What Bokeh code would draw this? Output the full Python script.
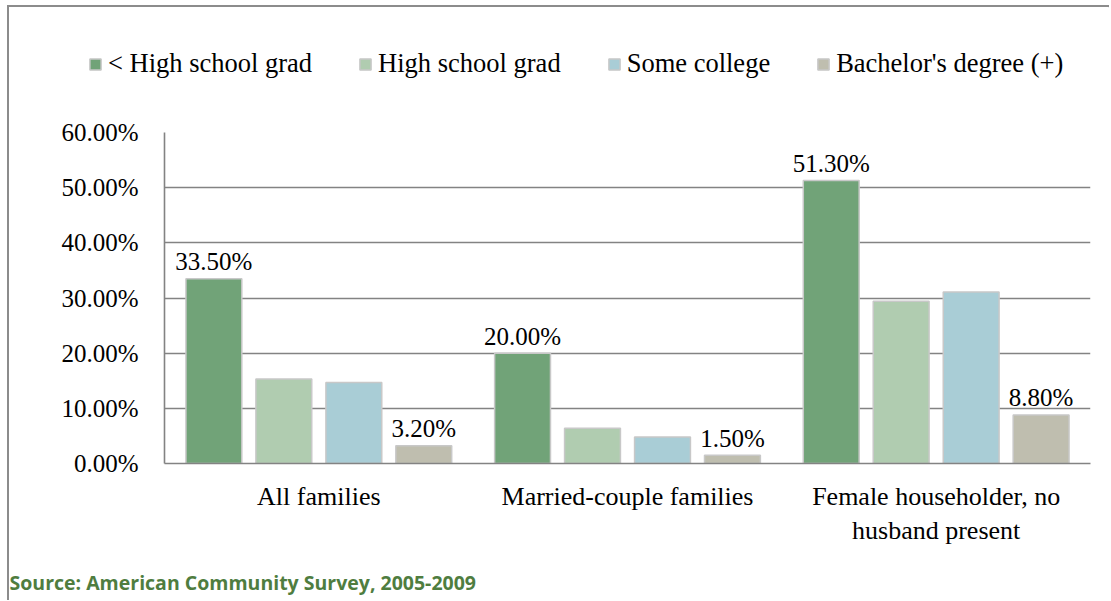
from bokeh.plotting import figure
from bokeh.layouts import column
from bokeh.models import (ColumnDataSource, FactorRange, Legend, LegendItem, Title,
                          PrintfTickFormatter, FixedTicker, Range1d)
from bokeh.transform import dodge
from bokeh.embed import file_html
from bokeh.resources import INLINE

categories = ["All families", "Married-couple families", "Female householder, no\nhusband present"]
series_names = ["< High school grad", "High school grad", "Some college", "Bachelor's degree (+)"]
less_hs = [33.5, 20.0, 51.3]
hs_grad = [15.3, 6.4, 29.4]
some_college = [14.7, 4.8, 31.1]
bachelors = [3.2, 1.5, 8.8]
y_ticks = [0, 10, 20, 30, 40, 50, 60]
source_note = "Source: American Community Survey, 2005-2009"

colors = ["#71a378", "#b0ccb0", "#a9cdd6", "#bfbeaf"]
series_values = [less_hs, hs_grad, some_college, bachelors]
offsets = [-0.34, -0.1134, 0.1134, 0.34]
labelled = [True, False, False, True]

W = 1100

# legend strip on top (its key glyphs sit outside its visible range)
lf = figure(width=W, height=87, x_range=Range1d(0, 1), y_range=Range1d(0, 1),
            x_axis_type=None, y_axis_type=None, output_backend="svg",
            toolbar_location=None, min_border=0, outline_line_color=None,
            frame_align=False)
lf.grid.visible = False

p = figure(width=W, height=506, x_range=FactorRange(*categories, range_padding=0),
           y_range=Range1d(0, 60), output_backend="svg", toolbar_location=None,
           min_border_left=155, min_border_top=38, min_border_right=19,
           min_border_bottom=135, outline_line_color=None, frame_align=False)

items = []
for name, vals, col, off, lab in zip(series_names, series_values, colors, offsets, labelled):
    src = ColumnDataSource(dict(cat=categories, val=vals,
                                txt=[f"{v:.2f}%" for v in vals]))
    p.vbar(x=dodge("cat", off, range=p.x_range), top="val", width=0.181, source=src,
           fill_color=col, line_color="#c8c8c8", line_width=1.5)
    key = lf.vbar(x=[5], top=[5], bottom=[4], width=0.1, fill_color=col,
                  line_color="#c8c8c8", line_width=1.5)
    items.append(LegendItem(label=name, renderers=[key]))
    if lab:
        p.text(x=dodge("cat", off, range=p.x_range), y="val", text="txt", source=src,
               text_align="center", text_baseline="alphabetic", y_offset=-17,
               text_font="Liberation Serif", text_font_size="25px", text_color="black")

legend = Legend(items=items, orientation="horizontal", location=(79, 15),
                border_line_color=None, background_fill_alpha=0, padding=0, margin=0,
                spacing=46, glyph_width=14, glyph_height=14, label_standoff=6,
                label_text_font="Liberation Serif", label_text_font_size="26.5px",
                label_text_color="black")
lf.add_layout(legend, "center")

p.xgrid.grid_line_color = None
p.ygrid.grid_line_color = "#838383"
p.ygrid.grid_line_width = 1.6
p.ygrid.ticker = FixedTicker(ticks=y_ticks)

p.yaxis.ticker = FixedTicker(ticks=y_ticks)
p.yaxis.formatter = PrintfTickFormatter(format="%.2f%%")
for ax in (p.xaxis, p.yaxis):
    ax.axis_line_color = "#838383"
    ax.axis_line_width = 1.6
    ax.major_tick_line_color = None
    ax.minor_tick_line_color = None
    ax.major_tick_out = 0
    ax.major_tick_in = 0
    ax.major_label_text_font = "Liberation Serif"
    ax.major_label_text_color = "black"
p.yaxis.major_label_text_font_size = "25px"
p.yaxis.major_label_standoff = 26
p.xaxis.major_label_text_font_size = "26px"
p.xaxis.major_label_standoff = 18

spacer = Title(text=" ", text_font_size="1px")
p.add_layout(spacer, "below")
t = Title(text=source_note, align="left", offset=-155, text_font="Open Sans",
          text_font_style="bold", text_font_size="19.5px", text_color="#4f7d3f")
p.add_layout(t, "below")

layout = column(lf, p, spacing=0)
layout.styles = {"margin-left": "7px", "margin-top": "5px",
                 "border-left": "2px solid #8c8c8c", "border-top": "2px solid #8c8c8c"}

open("out.html", "w").write(file_html(layout, INLINE))
